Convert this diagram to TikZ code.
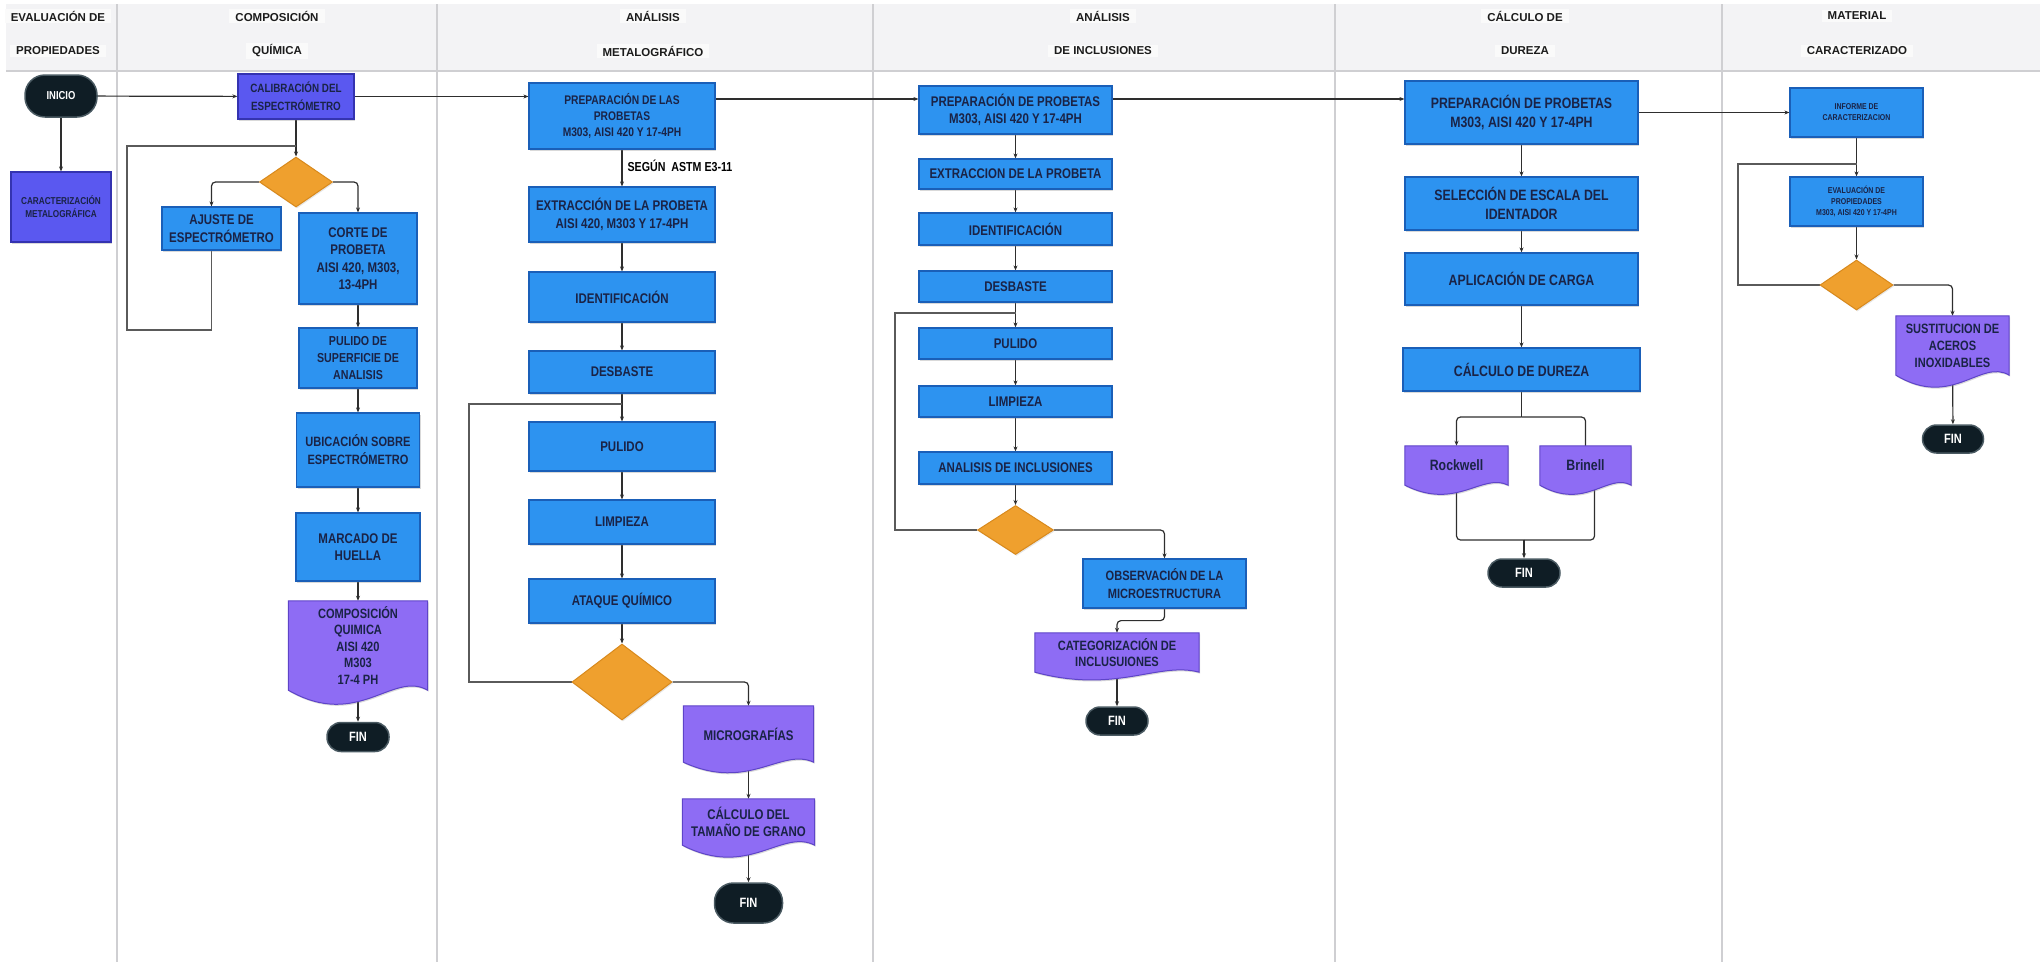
\documentclass[tikz,border=0pt]{standalone}
\usepackage{fontspec}
\usepackage{tikz}
\usetikzlibrary{shapes.geometric,arrows.meta,calc,shadows}
\newfontfamily\boxfont{Liberation Sans}[FakeStretch=0.82]
\newfontfamily\headfont{Liberation Sans}
\definecolor{ProcBlue}{HTML}{2D93F0}
\definecolor{ProcEdge}{HTML}{1A5FB8}
\definecolor{CalibIndigo}{HTML}{5A58F0}
\definecolor{IndigoEdge}{HTML}{3433B0}
\definecolor{DocPurple}{HTML}{8E6CF4}
\definecolor{DocEdge}{HTML}{5E44C8}
\definecolor{DecOrange}{HTML}{EFA02E}
\definecolor{DecEdge}{HTML}{D8891C}
\definecolor{TermInk}{HTML}{0F1D25}
\definecolor{TermEdge}{HTML}{4A5A62}
\definecolor{LabelNavy}{HTML}{1A2346}
\definecolor{HeadGray}{HTML}{F3F3F5}
\definecolor{HeadInk}{HTML}{1C1C1C}
\definecolor{LaneGray}{HTML}{CFCFD2}
\definecolor{WireGray}{HTML}{2E2E2E}
\definecolor{LoopGray}{HTML}{5A5A5A}
\pgfdeclarelayer{lanes}
\pgfdeclarelayer{wires}
\pgfdeclarelayer{docs}
\pgfsetlayers{lanes,wires,docs,main}
% wavy bottom of a document node: #1 node, #2 dip
\newcommand{\docwave}[2]{%
  \path[docshape] (#1.north west) -- (#1.north east) -- (#1.south east)
    .. controls ($(#1.south east)!0.25!(#1.south west)+(0,#2)$)
    and ($(#1.south east)!0.5!(#1.south west)+(0,-2*#2)$) .. (#1.south west)
    -- cycle;}

\begin{document}
\begin{tikzpicture}[x=1pt, y=1pt,
    lanetitle/.style={font=\headfont\bfseries\fontsize{11.5}{14}\selectfont,
      text=HeadInk, fill=white!55!HeadGray, inner xsep=6pt, inner ysep=2pt},
    boxsize/.style 2 args={minimum width=#1pt, minimum height=#2pt},
    textsize/.style 2 args={font=\boxfont\bfseries\fontsize{#1}{#2}\selectfont},
    proc/.style={rectangle, fill=ProcBlue, draw=ProcEdge, line width=1.2pt,
      text=LabelNavy, align=center, inner sep=2pt, textsize={14}{17.5},
      drop shadow={opacity=0.3, shadow xshift=1pt, shadow yshift=-1.5pt}},
    calib/.style={proc, fill=CalibIndigo, draw=IndigoEdge},
    doc/.style={rectangle, text=LabelNavy, align=center, inner sep=1pt,
      textsize={14}{17}},
    docshape/.style={fill=DocPurple, draw=DocEdge, line width=1pt,
      drop shadow={opacity=0.3, shadow xshift=1pt, shadow yshift=-1.5pt}},
    decision/.style={diamond, fill=DecOrange, draw=DecEdge, line width=1pt,
      inner sep=0pt, drop shadow={opacity=0.2, shadow xshift=1pt, shadow yshift=-1.5pt}},
    term/.style={rectangle, rounded corners=14pt, fill=TermInk, draw=TermEdge,
      line width=1.5pt, text=white, textsize={13.5}{16}, inner sep=1pt},
    note/.style={text=black, textsize={13}{15}},
    flow/.style={draw=WireGray, line width=1.2pt, rounded corners=4pt,
      -{Stealth[length=5pt, width=4pt]}},
    wire/.style={draw=WireGray, line width=1.2pt, rounded corners=4pt},
    backline/.style={draw=LoopGray, line width=1.6pt}]
\useasboundingbox (0,0) rectangle (2040,-962);

% swimlanes
\begin{pgfonlayer}{lanes}
  \fill[HeadGray] (6,-4) rectangle (2040,-71);
  \draw[LaneGray, line width=1.2pt] (6,-71) -- (2040,-71);
  \foreach \x in {117,437,873,1335,1722}
    \draw[LaneGray, line width=1.5pt] (\x,-4) -- (\x,-962);
\end{pgfonlayer}
\node[lanetitle] (propA) at (58,-16) {EVALUACIÓN DE};
\node[lanetitle] (propB) at (58,-51) {PROPIEDADES};
\node[lanetitle] (quimA) at (277,-16) {COMPOSICIÓN};
\node[lanetitle] (quimB) at (277,-51) {QUÍMICA};
\node[lanetitle] (metA) at (653,-16) {ANÁLISIS};
\node[lanetitle] (metB) at (653,-51) {METALOGRÁFICO};
\node[lanetitle] (inclA) at (1103,-16) {ANÁLISIS};
\node[lanetitle] (inclB) at (1103,-51) {DE INCLUSIONES};
\node[lanetitle] (durA) at (1525,-16) {CÁLCULO DE};
\node[lanetitle] (durB) at (1525,-51) {DUREZA};
\node[lanetitle] (matA) at (1857,-16) {MATERIAL};
\node[lanetitle] (matB) at (1857,-51) {CARACTERIZADO};

% evaluacion de propiedades
\node[term, boxsize={72}{42}, rounded corners=20pt, textsize={11.5}{14}] (inicio) at (61,-96) {INICIO};
\node[calib, boxsize={100}{70}, textsize={10}{13}] (caract) at (61,-207) {CARACTERIZACIÓN\\METALOGRÁFICA};

% composicion quimica
\node[calib, boxsize={116}{45}, textsize={12}{18}] (calib) at (296,-96.5) {CALIBRACIÓN DEL\\ESPECTRÓMETRO};
\node[decision, boxsize={73}{50}] (dec1) at (296,-182) {};
\node[proc, boxsize={119}{43}] (ajuste) at (221.5,-228.5) {AJUSTE DE\\ESPECTRÓMETRO};
\node[proc, boxsize={118}{91}] (corte) at (358,-258.5) {CORTE DE\\PROBETA\\AISI 420, M303,\\13-4PH};
\node[proc, boxsize={118}{60}, textsize={13}{17}] (pulsup) at (358,-358) {PULIDO DE\\SUPERFICIE DE\\ANALISIS};
\node[proc, boxsize={123}{74}, textsize={13.5}{18}] (ubic) at (358,-450) {UBICACIÓN SOBRE\\ESPECTRÓMETRO};
\node[proc, boxsize={124}{68}] (marcado) at (358,-547) {MARCADO DE\\HUELLA};
\node[doc, boxsize={139}{89}, textsize={13.5}{16.5}] (compq) at (358,-645.5) {COMPOSICIÓN\\QUIMICA\\AISI 420\\M303\\17-4 PH};
\node[term, boxsize={62}{29}] (fin1) at (358,-737) {FIN};

% analisis metalografico
\node[proc, boxsize={186}{66}, textsize={12.5}{16}] (prepmet) at (622,-116) {PREPARACIÓN DE LAS\\PROBETAS\\M303, AISI 420 Y 17-4PH};
\node[proc, boxsize={186}{55}, textsize={14}{18}] (extr) at (622,-214.5) {EXTRACCIÓN DE LA PROBETA\\AISI 420, M303 Y 17-4PH};
\node[proc, boxsize={186}{50}] (ident) at (622,-297) {IDENTIFICACIÓN};
\node[proc, boxsize={186}{42}] (desb) at (622,-372) {DESBASTE};
\node[proc, boxsize={186}{49}] (pul) at (622,-446.5) {PULIDO};
\node[proc, boxsize={186}{44}] (limp) at (622,-522) {LIMPIEZA};
\node[proc, boxsize={186}{44}] (ataque) at (622,-601) {ATAQUE QUÍMICO};
\node[decision, boxsize={100}{76}] (dec2) at (622,-682) {};
\node[doc, boxsize={130}{56}] (micro) at (748.5,-734) {MICROGRAFÍAS};
\node[doc, boxsize={132}{46}] (grano) at (748.5,-822) {CÁLCULO DEL\\TAMAÑO DE GRANO};
\node[term, boxsize={68}{40}, rounded corners=19pt] (fin2) at (748.5,-903) {FIN};
\node[note, anchor=west] (segun) at (624,-166) {SEGÚN~~ASTM E3-11};

% analisis de inclusiones
\node[proc, boxsize={193}{48}] (prepincl) at (1015.5,-110) {PREPARACIÓN DE PROBETAS\\M303, AISI 420 Y 17-4PH};
\node[proc, boxsize={193}{30}] (extrincl) at (1015.5,-174) {EXTRACCION DE LA PROBETA};
\node[proc, boxsize={193}{32}] (identincl) at (1015.5,-229) {IDENTIFICACIÓN};
\node[proc, boxsize={193}{31}] (desbincl) at (1015.5,-286.5) {DESBASTE};
\node[proc, boxsize={193}{31}] (pulincl) at (1015.5,-343.5) {PULIDO};
\node[proc, boxsize={193}{31}] (limpincl) at (1015.5,-401.5) {LIMPIEZA};
\node[proc, boxsize={193}{32}] (anaincl) at (1015.5,-468) {ANALISIS DE INCLUSIONES};
\node[decision, boxsize={76}{49}] (dec3) at (1015.5,-530) {};
\node[proc, boxsize={163}{49}, textsize={13.5}{17.5}] (obs) at (1164.5,-583.5) {OBSERVACIÓN DE LA\\MICROESTRUCTURA};
\node[doc, boxsize={164}{39}, textsize={13.5}{16}] (categ) at (1117,-652.5) {CATEGORIZACIÓN DE\\INCLUSUIONES};
\node[term, boxsize={62}{28}] (fin3) at (1117,-721) {FIN};

% calculo de dureza
\node[proc, boxsize={233}{63}, textsize={15}{19}] (prepdur) at (1521.5,-112.5) {PREPARACIÓN DE PROBETAS\\M303, AISI 420 Y 17-4PH};
\node[proc, boxsize={233}{53}, textsize={15}{19}] (selec) at (1521.5,-203.5) {SELECCIÓN DE ESCALA DEL\\IDENTADOR};
\node[proc, boxsize={233}{52}, textsize={15}{19}] (aplic) at (1521.5,-279) {APLICACIÓN DE CARGA};
\node[proc, boxsize={237}{43}, textsize={15}{19}] (calcdur) at (1521.5,-369.5) {CÁLCULO DE DUREZA};
\node[doc, boxsize={103}{39}, textsize={15}{18}] (rock) at (1456.5,-465.5) {Rockwell};
\node[doc, boxsize={91}{39}, textsize={15}{18}] (brin) at (1585.5,-465.5) {Brinell};
\node[term, boxsize={72}{28}] (fin4) at (1524,-573) {FIN};

% material caracterizado
\node[proc, boxsize={133}{49}, textsize={8.5}{11}] (informe) at (1856.5,-112.5) {INFORME DE\\CARACTERIZACION};
\node[proc, boxsize={133}{49}, textsize={8.5}{11}] (evalprop) at (1856.5,-201.5) {EVALUACIÓN DE\\PROPIEDADES\\M303, AISI 420 Y 17-4PH};
\node[decision, boxsize={73}{50}] (dec4) at (1856.5,-285) {};
\node[doc, boxsize={113}{59}, textsize={13.5}{17}] (sust) at (1952.5,-345.5) {SUSTITUCION DE\\ACEROS\\INOXIDABLES};
\node[term, boxsize={61}{28}] (fin5) at (1953,-439) {FIN};

% document shapes
\begin{pgfonlayer}{docs}
  \foreach \n/\d in {compq/20, micro/15, grano/17, categ/11, rock/13, brin/13, sust/17}
    \docwave{\n}{\d};
\end{pgfonlayer}

% connectors
\coordinate (loopA) at (127,-330);
\coordinate (joinA) at (296,-146);
\coordinate (loopB) at (469,-682);
\coordinate (joinB) at (622,-404);
\coordinate (loopC) at (895,-530);
\coordinate (joinC) at (1015.5,-313);
\coordinate (loopD) at (1738,-285);
\coordinate (joinD) at (1856.5,-164);
\coordinate (split) at (1521.5,-417);
\coordinate (merge) at (1524,-540);
\begin{pgfonlayer}{wires}
  % main line through the lanes
  \draw[flow] (inicio) -- (calib);
  \draw[flow] (calib.east) -- (prepmet.west |- calib.east);
  \draw[flow] ([yshift=17pt]prepmet.east) -- ([yshift=11pt]prepincl.west);
  \draw[flow] ([yshift=11pt]prepincl.east) -- ([yshift=13.5pt]prepdur.west);
  \draw[flow] (prepdur) -- (informe);
  \draw[flow] (inicio) -- (caract);

  % composicion
  \draw[flow] (calib) -- (dec1);
  \draw[flow] (dec1.west) -| ([xshift=-10pt]ajuste.north);
  \draw[flow] (dec1.east) -| (corte.north);
  \draw[backline] ([xshift=-10pt]ajuste.south) |- (loopA) |- (joinA);
  \foreach \a/\b in {corte/pulsup, pulsup/ubic, ubic/marcado, marcado/compq, compq/fin1}
    \draw[flow] (\a) -- (\b);

  % metalografico
  \foreach \a/\b in {prepmet/extr, extr/ident, ident/desb, desb/pul, pul/limp,
      limp/ataque, ataque/dec2, micro/grano, grano/fin2}
    \draw[flow] (\a) -- (\b);
  \draw[backline] (dec2.west) -- (loopB) |- (joinB);
  \draw[flow] (dec2.east) -| (micro.north);

  % inclusiones
  \foreach \a/\b in {prepincl/extrincl, extrincl/identincl, identincl/desbincl,
      desbincl/pulincl, pulincl/limpincl, limpincl/anaincl, anaincl/dec3, categ/fin3}
    \draw[flow] (\a) -- (\b);
  \draw[backline] (dec3.west) -- (loopC) |- (joinC);
  \draw[flow] (dec3.east) -| (obs.north);
  \draw[flow] (obs.south) -- ++(0,-12) -| (categ.north);

  % dureza
  \foreach \a/\b in {prepdur/selec, selec/aplic, aplic/calcdur}
    \draw[flow] (\a) -- (\b);
  \draw[wire] (calcdur.south) -- (split);
  \draw[flow] (split) -| (rock.north);
  \draw[wire] (split) -| (brin.north);
  \draw[wire] (rock.south) |- (merge);
  \draw[wire] ([xshift=9pt]brin.south) |- (merge);
  \draw[flow] (merge) -- (fin4);

  % material caracterizado
  \draw[flow] (informe) -- (evalprop);
  \draw[flow] (evalprop) -- (dec4);
  \draw[backline] (dec4.west) -- (loopD) |- (joinD);
  \draw[flow] (dec4.east) -| (sust.north);
  \draw[flow] (sust) -- (fin5);
\end{pgfonlayer}
\end{tikzpicture}
\end{document}
